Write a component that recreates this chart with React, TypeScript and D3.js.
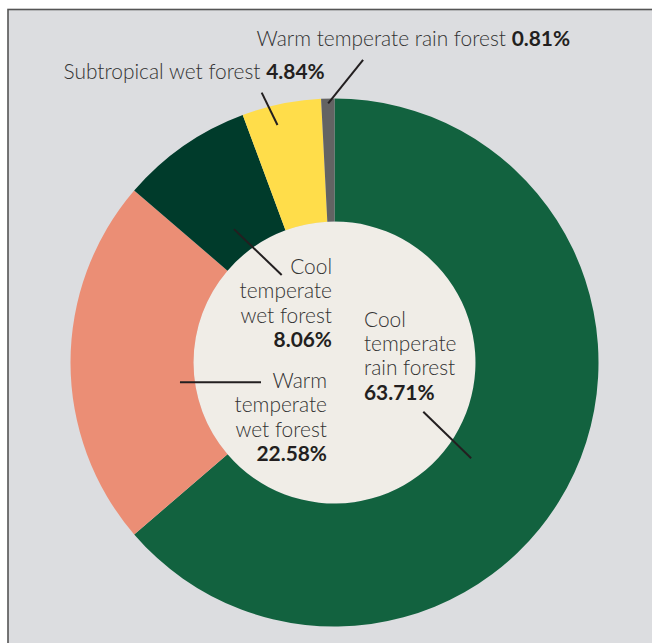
import React, { useEffect } from 'react';
import * as d3 from 'd3';

// ---- data ----
const categories = [
  'Cool temperate rain forest',
  'Warm temperate wet forest',
  'Cool temperate wet forest',
  'Subtropical wet forest',
  'Warm temperate rain forest',
];
const values = [63.71, 22.58, 8.06, 4.84, 0.81];
const valueLabels = ['63.71%', '22.58%', '8.06%', '4.84%', '0.81%'];

// ---- styles / layout ----
const colors = ['#12623f', '#eb8e75', '#003b2b', '#ffdd4a', '#636363'];
const W = 652;
const H = 643;
const cx = 334.5;
const cy = 362.5;
const outerR = 264;
const innerR = 141;
const FONT = 'Lato, "Noto Sans", sans-serif';

type Layout = {
  lines: string[];
  x: number;
  y: number;
  anchor: 'start' | 'end';
  inline: boolean;
  lead: [number, number, number, number]; // angle1, r1, angle2, r2 (deg, px)
};

const layouts: Layout[] = [
  { lines: ['Cool', 'temperate', 'rain forest'], x: 364, y: 326.7, anchor: 'start', inline: false, lead: [119, 101.5, 125, 166.8] },
  { lines: ['Warm', 'temperate', 'wet forest'], x: 327, y: 388, anchor: 'end', inline: false, lead: [254.9, 76.1, 262.7, 155.8] },
  { lines: ['Cool', 'temperate', 'wet forest'], x: 332, y: 274, anchor: 'end', inline: false, lead: [328.9, 102.2, 323, 167] },
  { lines: ['Subtropical wet forest'], x: 63.5, y: 78.5, anchor: 'start', inline: true, lead: [346.5, 244.3, 344.9, 279.5] },
  { lines: ['Warm temperate rain forest'], x: 256.5, y: 45.5, anchor: 'start', inline: true, lead: [358.6, 259.3, 5.4, 303.9] },
];
const lineH = 24.3;

const polar = (deg: number, r: number) => {
  const a = (deg * Math.PI) / 180;
  return [cx + r * Math.sin(a), cy - r * Math.cos(a)];
};

export default function App() {
  useEffect(() => {
    document.body.style.margin = '0';
  }, []);

  const pie = d3.pie<number>().sort(null).startAngle(0).endAngle(2 * Math.PI);
  const arcs = pie(values);
  const arc = d3.arc<d3.PieArcDatum<number>>().innerRadius(innerR).outerRadius(outerR);

  return (
    <svg width={W} height={H} style={{ display: 'block', background: '#ffffff' }}>
      <rect x={8} y={9.5} width={W + 20} height={H + 20} fill="#dcdde0" stroke="#555555" strokeWidth={1.6} />
      <circle cx={cx} cy={cy} r={innerR} fill="#f0ede7" />
      <g transform={`translate(${cx},${cy})`}>
        {arcs.map((d, i) => (
          <path key={categories[i]} d={arc(d) || ''} fill={colors[i]} />
        ))}
      </g>
      {layouts.map((l, i) => {
        const [x1, y1] = polar(l.lead[0], l.lead[1]);
        const [x2, y2] = polar(l.lead[2], l.lead[3]);
        return <line key={'l' + i} x1={x1} y1={y1} x2={x2} y2={y2} stroke="#231f20" strokeWidth={2} />;
      })}
      {layouts.map((l, i) => (
        <text
          key={'t' + i}
          x={l.x}
          y={l.y}
          textAnchor={l.anchor}
          fontFamily={FONT}
          fontSize={20.9}
          fontWeight={300}
          fill="#333333"
        >
          {l.inline ? (
            <>
              <tspan>{l.lines[0] + ' '}</tspan>
              <tspan fontWeight={700} fill="#231f20">{valueLabels[i]}</tspan>
            </>
          ) : (
            <>
              {l.lines.map((s, j) => (
                <tspan key={j} x={l.x} dy={j === 0 ? 0 : lineH}>{s}</tspan>
              ))}
              <tspan x={l.x} dy={lineH} fontWeight={700} fill="#231f20">{valueLabels[i]}</tspan>
            </>
          )}
        </text>
      ))}
    </svg>
  );
}
